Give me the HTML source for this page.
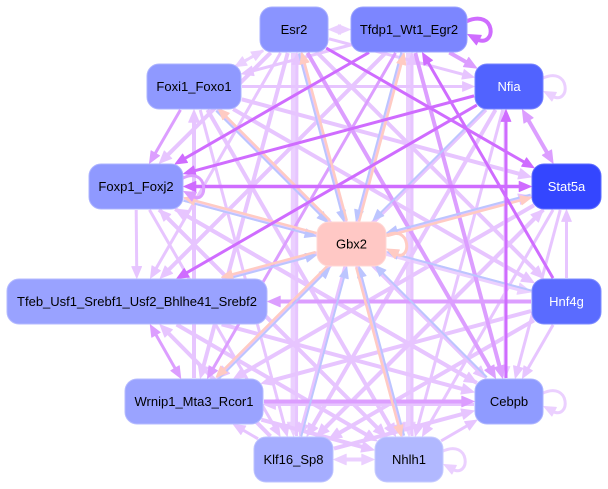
<!DOCTYPE html>
<html><head><meta charset="utf-8">
<style>
html,body{margin:0;padding:0;background:#fff;width:608px;height:489px;overflow:hidden}
svg{display:block}
text{font-family:"Liberation Sans",Arial,sans-serif;font-size:13px}
</style></head><body>
<svg id="svg" width="608" height="489" viewBox="0 0 608 489" xmlns="http://www.w3.org/2000/svg">
<g id="edges"></g>
<g id="nodes">
<rect x="260" y="7" width="68" height="45" rx="12" fill="#8a94ff" stroke="#a9b0ff"/>
<text x="294" y="34" text-anchor="middle" fill="#000">Esr2</text>
<rect x="351" y="7" width="116" height="45" rx="12" fill="#7c86ff" stroke="#9ca4ff"/>
<text x="409" y="34" text-anchor="middle" fill="#000">Tfdp1_Wt1_Egr2</text>
<rect x="147" y="64" width="94" height="45" rx="12" fill="#8f99ff" stroke="#adb4ff"/>
<text x="194" y="91" text-anchor="middle" fill="#000">Foxi1_Foxo1</text>
<rect x="475" y="64" width="68" height="45" rx="12" fill="#5163ff" stroke="#7884ff"/>
<text x="509" y="91" text-anchor="middle" fill="#fff">Nfia</text>
<rect x="89" y="164" width="94" height="45" rx="12" fill="#8f99ff" stroke="#adb4ff"/>
<text x="136" y="191" text-anchor="middle" fill="#000">Foxp1_Foxj2</text>
<rect x="532" y="164" width="69" height="45" rx="12" fill="#3446ff" stroke="#5e6cff"/>
<text x="566.5" y="191" text-anchor="middle" fill="#fff">Stat5a</text>
<rect x="317" y="222" width="69" height="44" rx="12" fill="#ffc8c5" stroke="#ffd8d5"/>
<text x="351.5" y="248.5" text-anchor="middle" fill="#000">Gbx2</text>
<rect x="7" y="279" width="260" height="45" rx="12" fill="#99a2ff" stroke="#b4baff"/>
<text x="137" y="306" text-anchor="middle" fill="#000">Tfeb_Usf1_Srebf1_Usf2_Bhlhe41_Srebf2</text>
<rect x="532" y="279" width="69" height="45" rx="12" fill="#5a6bff" stroke="#7f8cff"/>
<text x="566.5" y="306" text-anchor="middle" fill="#fff">Hnf4g</text>
<rect x="125" y="379" width="138" height="45" rx="12" fill="#9aa3ff" stroke="#b5bbff"/>
<text x="194" y="406" text-anchor="middle" fill="#000">Wrnip1_Mta3_Rcor1</text>
<rect x="475" y="379" width="68" height="45" rx="12" fill="#8f9bff" stroke="#adb5ff"/>
<text x="509" y="406" text-anchor="middle" fill="#000">Cebpb</text>
<rect x="254" y="437" width="79" height="45" rx="12" fill="#a5adff" stroke="#bdc3ff"/>
<text x="293.5" y="464" text-anchor="middle" fill="#000">Klf16_Sp8</text>
<rect x="375" y="437" width="68" height="45" rx="12" fill="#b1b8ff" stroke="#c6cbff"/>
<text x="409" y="464" text-anchor="middle" fill="#000">Nhlh1</text>
</g>
</svg>
<script>
(function(){
const NS='http://www.w3.org/2000/svg';
const eg=document.getElementById('edges');
const N={E:[260,7,328,52],T:[351,7,467,52],Fi:[147,64,241,109],N:[475,64,543,109],
Fp:[89,164,183,209],S:[532,164,601,209],G:[317,222,386,266],Tf:[7,279,267,324],
H:[532,279,601,324],W:[125,379,263,424],C:[475,379,543,424],K:[254,437,333,482],Nh:[375,437,443,482]};
function ctr(k){const b=N[k];return[(b[0]+b[2])/2,(b[1]+b[3])/2];}
function clip(k,dx,dy){const b=N[k];const hw=(b[2]-b[0])/2,hh=(b[3]-b[1])/2,r=12;
 const ax=Math.abs(dx),ay=Math.abs(dy);let t=1e9;
 if(ax>1e-9)t=Math.min(t,hw/ax);if(ay>1e-9)t=Math.min(t,hh/ay);
 const px=ax*t,py=ay*t;
 if(px>hw-r&&py>hh-r){const cx=hw-r,cy=hh-r;const uc=ax*cx+ay*cy;const d=uc*uc-(cx*cx+cy*cy)+r*r;if(d>=0)t=uc+Math.sqrt(d);}
 return t;}
function el(tag,a){const e=document.createElementNS(NS,tag);for(const k in a)e.setAttribute(k,a[k]);eg.appendChild(e);return e;}
function arrow(x,y,dx,dy,al,aw,col){const bx=x-dx*al,by=y-dy*al,px=-dy*aw,py=dx*aw;
 el('polygon',{points:x+','+y+' '+(bx+px)+','+(by+py)+' '+(bx-px)+','+(by-py),fill:col,stroke:col,'stroke-width':1,'stroke-linejoin':'round'});}
function ed(a,b,col,w,o){o=o||{};const c1=ctr(a),c2=ctr(b);let dx=c2[0]-c1[0],dy=c2[1]-c1[1];const L=Math.hypot(dx,dy);dx/=L;dy/=L;
 const off=o.off||0,px=-dy*off,py=dx*off;
 const t1=clip(a,dx,dy)+1,t2=clip(b,dx,dy)+1;
 const sx=c1[0]+dx*t1+px,sy=c1[1]+dy*t1+py,ex=c2[0]-dx*t2+px,ey=c2[1]-dy*t2+py;
 const al=9+w*0.8,aw=3.5+w*0.45;let lx1=sx,ly1=sy,lx2=ex,ly2=ey;
 if(o.head!==false){arrow(ex,ey,dx,dy,al,aw,col);lx2=ex-dx*al*0.8;ly2=ey-dy*al*0.8;}
 if(o.both){arrow(sx,sy,-dx,-dy,al,aw,col);lx1=sx+dx*al*0.8;ly1=sy+dy*al*0.8;}
 const ln=el('line',{x1:lx1,y1:ly1,x2:lx2,y2:ly2,stroke:col,'stroke-width':w});
 if(o.dash)ln.setAttribute('stroke-dasharray',o.dash);}
function loop(k,col,w,ext){const b=N[k];const r=b[2],cy=(b[1]+b[3])/2;ext=ext||28;
 const al=9+w*0.8,aw=3.5+w*0.45;
 el('path',{d:'M'+(r-1)+','+(cy-8)+' C'+(r+ext)+','+(cy-22)+' '+(r+ext)+','+(cy+20)+' '+(r+9)+','+(cy+9.5),fill:'none',stroke:col,'stroke-width':w});
 arrow(r+1,cy+5,-0.89,-0.46,al,aw,col);}
const L='#ebd0ff',L2='#e7c5ff',M='#dc9eff',D='#cf6cff',B='#bcc5ff',P='#ffcbc3';
[['E','K',6],['T','Nh',6],['E','Nh',4],['E','W',4],['E','Tf',3],['E','Fp',4],['E','H',4],
['T','K',4],['T','Tf',4],['T','Fi',3],['Fi','S',4],['Fi','N',3],['Fi','H',4],['Fi','C',4],['Fi','Nh',4],['Fi','K',3],
['W','Fi',4],['N','W',4],['N','K',4],['N','Nh',3],['S','W',4],['S','K',4],['S','Nh',3],['S','C',3],
['Fp','C',4],['Fp','Nh',4],['Fp','H',5],['Fp','K',3],['Fp','Tf',3],['Tf','C',4],['Tf','Nh',4],['Tf','S',4],
['H','W',4],['H','K',4],['H','C',3],['H','S',3],['W','Nh',4],['K','S',4],['K','C',4],['K','Tf',4],
['Nh','C',3],['C','Fp',4],['C','W',3,{off:-3}],['K','W',3],['E','N',3],['Nh','Fp',3],['K','E',3,{off:3}],['Nh','T',3,{off:3}]
].forEach(e=>ed(e[0],e[1],(e[2]>=5?L:L2),e[2],e[3]));
ed('E','T',L,3,{both:true});
ed('Fi','E',L,3,{off:3,dash:'6,3'});
ed('E','Fi',L,3,{off:-3});
ed('K','Nh',L,4,{both:true});
ed('N','C',L,3,{off:4});
[['T','W',3],['T','C',4],['E','C',4],['Fi','Fp',3],['W','C',4],['H','Tf',4],['T','N',4]].forEach(e=>ed(e[0],e[1],M,e[2],e[3]));
ed('Tf','W',M,3,{both:true});
ed('N','S',M,4,{both:true});
['E','T','Fi','N','Fp','S','H','C','Nh','K','W','Tf'].forEach(k=>ed(k,'G',B,2,{off:1.5}));
['E','T','Fi','Fp','S','Tf','W','Nh'].forEach(k=>ed('G',k,P,2.5,{off:1.5}));
ed('Fp','S',D,3.5,{both:true});
ed('N','Fp',D,3);ed('T','Fp',D,3);ed('N','Tf',D,3);ed('E','S',D,3);ed('H','T',D,3);ed('C','N',D,3,{off:-3});
loop('T',D,4,30);loop('N',L,3);loop('Fp',M,3,26);loop('C',L,3);loop('Nh',L,3);loop('G',P,3,26);
})();
</script>
</body></html>
